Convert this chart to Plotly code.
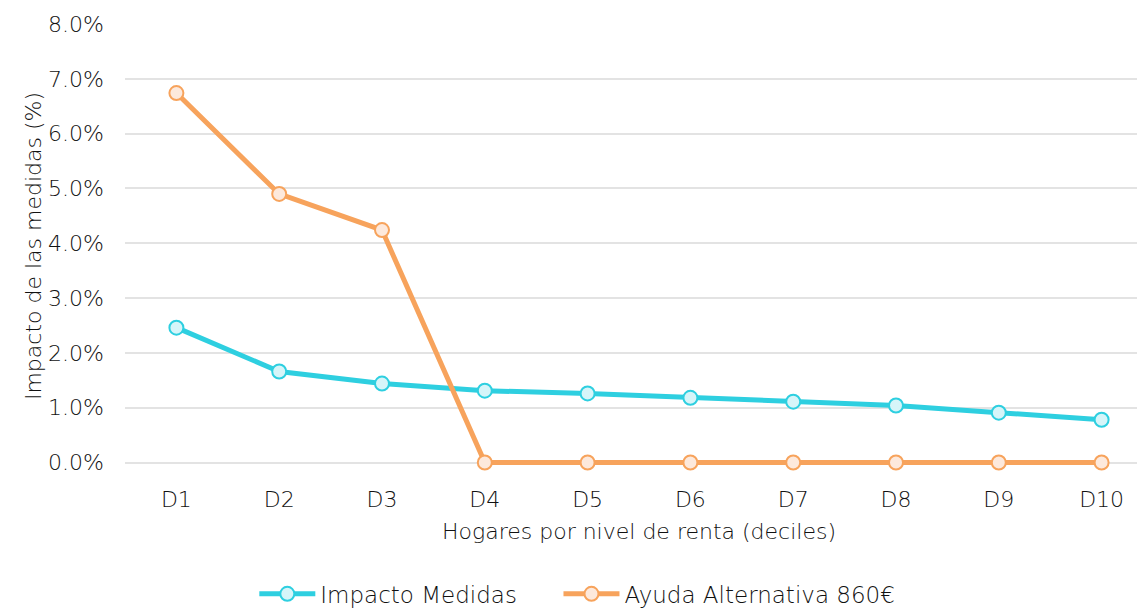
import plotly.graph_objects as go

deciles = ["D1", "D2", "D3", "D4", "D5", "D6", "D7", "D8", "D9", "D10"]
impacto_medidas = [0.0246, 0.0166, 0.0144, 0.0131, 0.0126, 0.0118, 0.0111, 0.0104, 0.0091, 0.0078]
ayuda_alternativa = [0.0674, 0.0490, 0.0424, 0.0, 0.0, 0.0, 0.0, 0.0, 0.0, 0.0]
y_ticks = [0.0, 0.01, 0.02, 0.03, 0.04, 0.05, 0.06, 0.07, 0.08]
series_names = ["Impacto Medidas", "Ayuda Alternativa 860€"]

FONT = "DejaVu Sans"
TEXT = "#111111"
PAD = "\u00a0" * 5  # gap between the two legend entries

fig = go.Figure()
fig.add_trace(go.Scatter(
    x=deciles, y=impacto_medidas, name=series_names[0] + PAD,
    mode="lines+markers",
    line=dict(color="#2ECFE0", width=5),
    marker=dict(size=14, color="#D6F5F9", line=dict(color="#2ECFE0", width=2)),
    cliponaxis=False,
))
fig.add_trace(go.Scatter(
    x=deciles, y=ayuda_alternativa, name=series_names[1],
    mode="lines+markers",
    line=dict(color="#F7A35C", width=5),
    marker=dict(size=14, color="#FDE9DC", line=dict(color="#F7A35C", width=2)),
    cliponaxis=False,
))

fig.update_xaxes(
    range=[-0.5, 9.5],
    showgrid=False, zeroline=False, showline=False,
    ticks="", ticklabelstandoff=16,
    tickfont=dict(family=FONT, size=22, color=TEXT, weight=300),
    title=dict(text="Hogares por nivel de renta (deciles)",
               font=dict(family=FONT, size=22, color=TEXT, weight=300), standoff=12),
)
fig.update_yaxes(
    range=[-0.001, 0.08], tickvals=y_ticks, tickformat=".1%",
    showgrid=True, gridcolor="#E3E3E3", gridwidth=2,
    zeroline=False, showline=False, ticks="",
    ticklabelstandoff=20,
    tickfont=dict(family=FONT, size=22, color=TEXT, weight=300),
    title=dict(text="Impacto de las medidas (%)",
               font=dict(family=FONT, size=22, color=TEXT, weight=300), standoff=0),
)
fig.update_layout(
    width=1145, height=610,
    margin=dict(l=117, r=0, t=16, b=150, autoexpand=False),
    plot_bgcolor="white", paper_bgcolor="white",
    showlegend=True,
    legend=dict(orientation="h", x=0.44, xanchor="center", y=-0.235, yanchor="top",
                font=dict(family=FONT, size=23, color=TEXT, weight=300),
                itemwidth=56, tracegroupgap=0),
)

fig.write_html("out.html")
